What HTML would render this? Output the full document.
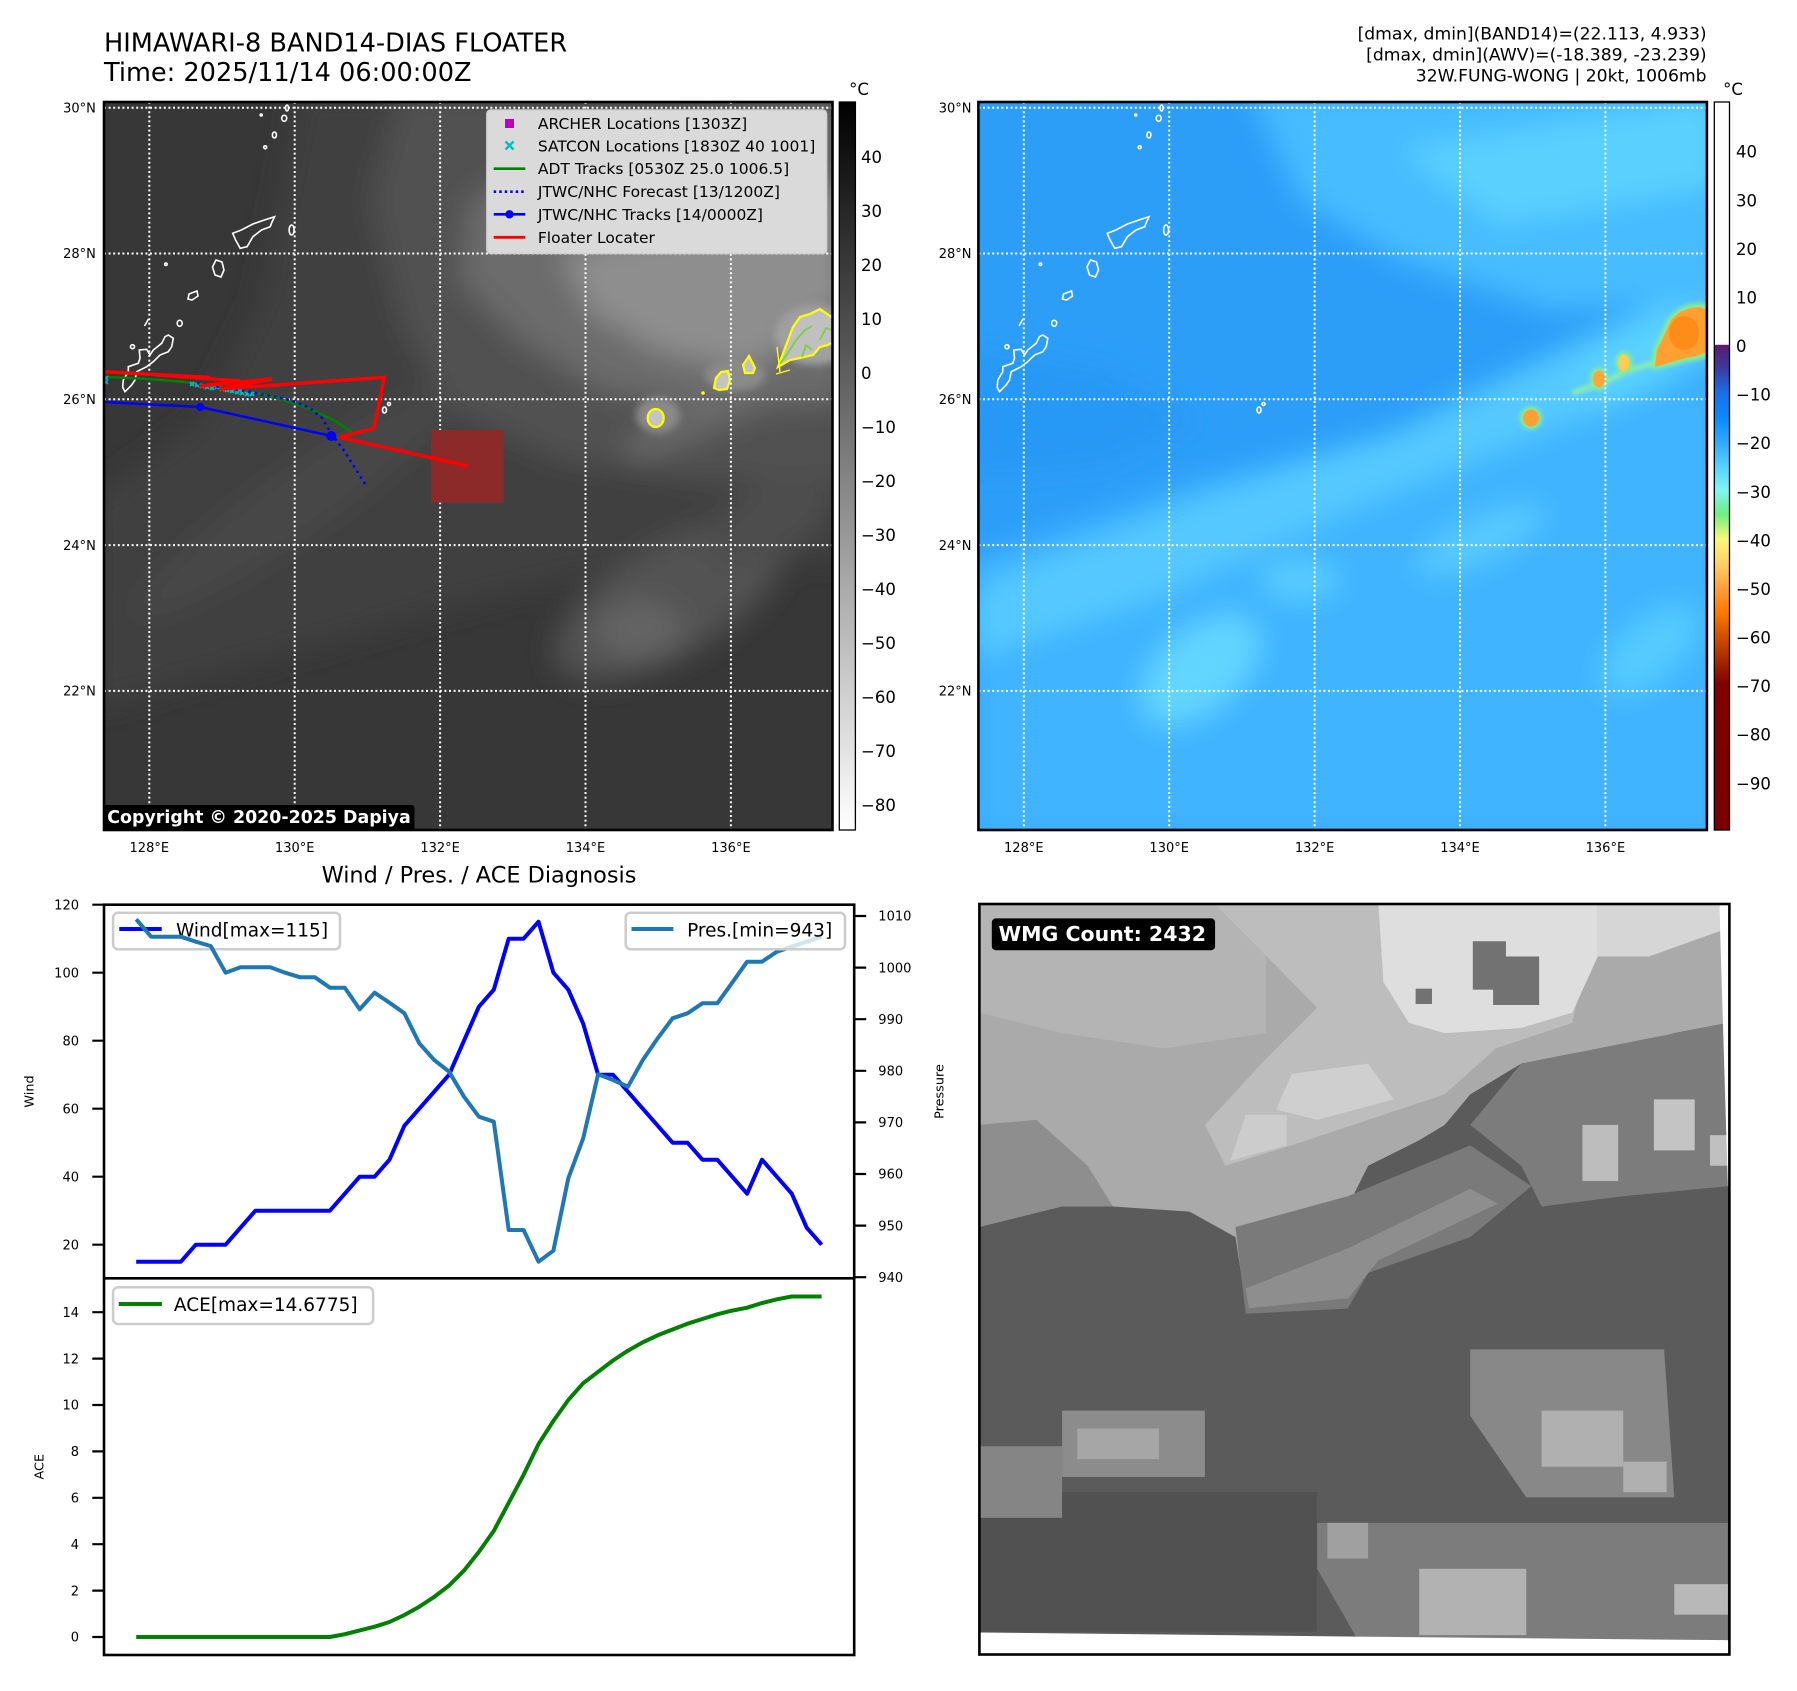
<!DOCTYPE html>
<html><head><meta charset="utf-8"><style>
html,body{margin:0;padding:0;background:#fff;}
body{width:1797px;height:1691px;overflow:hidden;}
svg{display:block;}
</style></head><body>
<svg width="1797" height="1691" viewBox="0 0 1797 1691" xmlns="http://www.w3.org/2000/svg" font-family="'DejaVu Sans','Liberation Sans',sans-serif">
<defs>
 <clipPath id="cL"><rect x="104" y="102" width="728.5" height="728"/></clipPath>
 <clipPath id="cR"><rect x="978.4" y="102" width="728.5" height="728"/></clipPath>
 <clipPath id="cW"><rect x="979.4" y="904" width="750" height="750.5"/></clipPath>
 <filter id="bl" filterUnits="userSpaceOnUse" x="0" y="0" width="1797" height="1691"><feGaussianBlur stdDeviation="14"/></filter>
 <filter id="bs" filterUnits="userSpaceOnUse" x="0" y="0" width="1797" height="1691"><feGaussianBlur stdDeviation="4"/></filter>
 <filter id="bt" filterUnits="userSpaceOnUse" x="0" y="0" width="1797" height="1691"><feGaussianBlur stdDeviation="2"/></filter>
 <linearGradient id="gL" x1="0" y1="0" x2="0" y2="1"><stop offset="0" stop-color="#000"/><stop offset="1" stop-color="#fff"/></linearGradient>
 <linearGradient id="gR" x1="0" y1="0" x2="0" y2="1">
  <stop offset="0" stop-color="#fff"/><stop offset="0.333" stop-color="#fff"/>
  <stop offset="0.334" stop-color="#5a1a6e"/>
  <stop offset="0.3667" stop-color="#3a3ca0"/>
  <stop offset="0.4" stop-color="#1a6fe8"/>
  <stop offset="0.4333" stop-color="#0a88ff"/>
  <stop offset="0.4667" stop-color="#30a8ff"/>
  <stop offset="0.5" stop-color="#58d0ff"/>
  <stop offset="0.5333" stop-color="#80f4f0"/>
  <stop offset="0.5667" stop-color="#70ee80"/>
  <stop offset="0.6" stop-color="#f8f878"/>
  <stop offset="0.6333" stop-color="#ffd068"/>
  <stop offset="0.6667" stop-color="#ffa040"/>
  <stop offset="0.7" stop-color="#ff7a00"/>
  <stop offset="0.7333" stop-color="#d45000"/>
  <stop offset="0.7667" stop-color="#a82800"/>
  <stop offset="0.8" stop-color="#800000"/>
  <stop offset="1" stop-color="#7a0000"/>
 </linearGradient>
 <g id="isl" fill="none" stroke="#fff" stroke-width="1.6">
  <path d="M168.3,335 L173.3,338.3 L171.7,346.7 L168.3,351.7 L160,355 L153.3,361.7 L146.7,366.7 L136.7,371.7 L135,380 L131.7,385 L125,391.7 L122.7,387.3 L123.3,380 L128.3,371.7 L128.3,366.7 L138.3,363.3 L140,358.3 L139.3,350 L146.7,349.3 L150,355 L153.3,350 L161.7,343.3 L165,336.7 Z"/>
  <path d="M274.6,216.7 L272,222 L270.2,226.7 L261.5,230 L252.9,236.7 L247.1,246.7 L240.2,248.3 L235.6,240 L232.7,233.3 L241.4,230 L252.9,224 L264.4,220 Z"/>
  <ellipse cx="291.6" cy="230" rx="2.5" ry="5"/>
  <path d="M216,260 L222,262 L224,270 L221,277 L215,275 L212.5,267 Z"/>
  <path d="M189,294 L197,291 L198,296 L192,300 L188,299 Z"/>
  <ellipse cx="179.7" cy="323.3" rx="2.5" ry="3"/>
  <circle cx="165.9" cy="264.3" r="1.2"/>
  <path d="M144.5,326 L148.5,319"/>
  <circle cx="132.5" cy="346.7" r="2"/>
  <ellipse cx="287" cy="108" rx="1.5" ry="3"/>
  <circle cx="261.2" cy="115" r="1"/>
  <ellipse cx="284.2" cy="118.3" rx="2.5" ry="3"/>
  <ellipse cx="274.4" cy="135" rx="2" ry="3"/>
  <circle cx="265.2" cy="147.3" r="1.5"/>
  <ellipse cx="384.5" cy="410" rx="2" ry="3"/>
  <circle cx="389" cy="404" r="1.5"/>
 </g>
</defs>

<rect width="1797" height="1691" fill="#fff"/>

<!-- ===== Titles ===== -->
<text x="104" y="51.5" font-size="25.6">HIMAWARI-8 BAND14-DIAS FLOATER</text>
<text x="104" y="81" font-size="25.6">Time: 2025/11/14 06:00:00Z</text>
<g font-size="17.2" text-anchor="end">
 <text x="1706.6" y="39.5">[dmax, dmin](BAND14)=(22.113, 4.933)</text>
 <text x="1706.6" y="60.5">[dmax, dmin](AWV)=(-18.389, -23.239)</text>
 <text x="1706.6" y="81.5">32W.FUNG-WONG | 20kt, 1006mb</text>
</g>

<!-- ===== LEFT MAP ===== -->
<g clip-path="url(#cL)">
 <rect x="104" y="102" width="728.5" height="728" fill="#373737"/>
 <g filter="url(#bl)">
  <polygon fill="#3f3f3f" points="300,90 850,90 850,560 650,560 480,600 300,650 90,710 90,500 200,420 260,300"/>
  <ellipse fill="#464646" cx="300" cy="500" rx="200" ry="35" transform="rotate(-35 300 500)"/>
  <polygon fill="#515151" points="400,90 850,90 850,480 700,480 560,460 450,410 400,320 370,200"/>
  <polygon fill="#6c6c6c" points="470,200 600,130 850,100 850,400 720,410 600,390 520,340 460,280"/>
  <polygon fill="#8e8e8e" points="560,255 680,228 850,180 850,345 760,372 660,352 590,312"/>
  <polygon fill="#6a6a6a" points="620,445 700,400 780,350 850,300 850,370 760,410 690,440 640,460"/>
  <ellipse fill="#525252" cx="670" cy="600" rx="130" ry="55" transform="rotate(-30 670 600)"/>
  <ellipse fill="#646464" cx="640" cy="630" rx="45" ry="30"/>
  <ellipse fill="#4e4e4e" cx="770" cy="520" rx="70" ry="35" transform="rotate(-30 770 520)"/>
 </g>
 <g filter="url(#bs)">
  <ellipse fill="#8a8a8a" cx="658" cy="415" rx="22" ry="18"/>
  <ellipse fill="#8a8a8a" cx="735" cy="375" rx="30" ry="16"/>
  <ellipse fill="#a0a0a0" cx="815" cy="335" rx="40" ry="30"/>
 </g>
 <ellipse cx="655.7" cy="418" rx="8" ry="9" fill="#c4c4c4" stroke="#ffff00" stroke-width="2.2"/>
 <path d="M714,388 L716,378 L721,372 L728,371 L730,380 L727,389 L719,390 Z" fill="#c4c4c4" stroke="#ffff00" stroke-width="2.2"/>
 <path d="M749,356 L755,368 L753,373 L745,373 L743,365 Z" fill="#c4c4c4" stroke="#ffff00" stroke-width="2.2"/>
 <path d="M778,367 L785,348 L793,327 L800,317 L810,314 L820,309 L830,316 L837,322 L837,340 L828,345 L820,347 L813,355 L800,358 L790,360 Z" fill="#c0c0c0" stroke="#ffff00" stroke-width="2.2"/>
 <path d="M780,364 L790,350 L796,340 L805,330 L812,326" fill="none" stroke="#7fd040" stroke-width="1.8"/>
 <path d="M802,357 L806,345 L812,350 M820,340 L826,328 L832,330" fill="none" stroke="#7fd040" stroke-width="1.8"/>
 <path d="M777,347 L780,372 M776,374 L790,370" fill="none" stroke="#ffff00" stroke-width="1.4"/>
 <circle cx="703" cy="393" r="1.8" fill="#ffff00"/>
 <use href="#isl"/>
 <!-- grid -->
 <g stroke="#fff" stroke-width="2" stroke-dasharray="2,2.6" fill="none">
  <path d="M149.3,102V830 M294.7,102V830 M440.1,102V830 M585.5,102V830 M730.9,102V830"/>
  <path d="M104,107.7H832.5 M104,253.5H832.5 M104,399.3H832.5 M104,545.1H832.5 M104,690.9H832.5"/>
 </g>
 <!-- floater box -->
 <rect x="431" y="430" width="72.7" height="72.7" fill="#8c2a2a"/>
 <!-- tracks -->
 <path d="M104,377 C200,380 300,392 353,433" fill="none" stroke="#008000" stroke-width="2.5"/>
 <g stroke="#00bfbf" stroke-width="1.6" fill="none">
  <path d="M190,382 l4,4 m0,-4 l-4,4 M195,383 l4,4 m0,-4 l-4,4 M200,384 l4,4 m0,-4 l-4,4 M205,385 l4,4 m0,-4 l-4,4 M210,386 l4,4 m0,-4 l-4,4 M215,385 l4,4 m0,-4 l-4,4 M220,387 l4,4 m0,-4 l-4,4 M225,388 l4,4 m0,-4 l-4,4 M230,389 l4,4 m0,-4 l-4,4 M235,390 l4,4 m0,-4 l-4,4 M240,391 l4,4 m0,-4 l-4,4 M245,392 l4,4 m0,-4 l-4,4 M250,392 l4,4 m0,-4 l-4,4 M229,386 l4,4 m0,-4 l-4,4 M238,387 l4,4 m0,-4 l-4,4 M104,376 l4,4 m0,-4 l-4,4 M104,380 l4,4 m0,-4 l-4,4"/>
 </g>
 <path d="M197,383 L250,392 L290,400 L310,408 L322,418 L333,436 L345,452 L355,468 L365,484" fill="none" stroke="#0000ff" stroke-width="2.6" stroke-dasharray="2.5,4"/>
 <polyline points="104,402 200.3,407 331.3,436" fill="none" stroke="#0000ff" stroke-width="2.5"/>
 <circle cx="200.3" cy="407" r="4" fill="#0000ff"/>
 <circle cx="331.3" cy="436" r="5" fill="#0000ff"/>
 <polyline points="104,371.7 210,377.5 157,375 240,381 200,386 272,379 220,389 384.3,377.3 374,428.3 339.3,437.3 468.3,466" fill="none" stroke="#ff0000" stroke-width="3.5" stroke-linejoin="miter"/>
 <!-- legend -->
 <rect x="486.8" y="110" width="339.8" height="143.5" rx="4" fill="#dadada" stroke="#cfcfcf" stroke-width="1.5"/>
 <rect x="505" y="119" width="9" height="9" fill="#bf00bf"/>
 <path d="M505.5,141.5 l8,8 m0,-8 l-8,8" stroke="#00bfbf" stroke-width="2.4" fill="none"/>
 <line x1="493.7" y1="168.7" x2="525.3" y2="168.7" stroke="#008000" stroke-width="2.6"/>
 <line x1="493.7" y1="191.7" x2="525.3" y2="191.7" stroke="#0000ff" stroke-width="2.6" stroke-dasharray="2.5,3"/>
 <line x1="493.7" y1="214.3" x2="525.3" y2="214.3" stroke="#0000ff" stroke-width="2.6"/>
 <circle cx="509.5" cy="214.3" r="4.2" fill="#0000ff"/>
 <line x1="493.7" y1="237.3" x2="525.3" y2="237.3" stroke="#ff0000" stroke-width="2.8"/>
 <g font-size="15.5" fill="#000">
  <text x="537.9" y="128.8">ARCHER Locations [1303Z]</text>
  <text x="537.9" y="151.5">SATCON Locations [1830Z 40 1001]</text>
  <text x="537.9" y="174.2">ADT Tracks [0530Z 25.0 1006.5]</text>
  <text x="537.9" y="197.2">JTWC/NHC Forecast [13/1200Z]</text>
  <text x="537.9" y="219.8">JTWC/NHC Tracks [14/0000Z]</text>
  <text x="537.9" y="242.8">Floater Locater</text>
 </g>
 <!-- copyright -->
 <rect x="103.3" y="805" width="311.2" height="30" rx="3" fill="#000"/>
 <text x="107.3" y="822.8" font-size="17.4" font-weight="bold" fill="#fff">Copyright © 2020-2025 Dapiya</text>
</g>
<rect x="104" y="102" width="728.5" height="728" fill="none" stroke="#000" stroke-width="2.6"/>
<!-- left colorbar -->
<rect x="839.3" y="102" width="16.1" height="728" fill="url(#gL)" stroke="#000" stroke-width="1.3"/>
<text x="859" y="95" font-size="16.5" text-anchor="middle">°C</text>
<g font-size="16.5">
 <text x="861" y="163">40</text>
 <text x="861" y="217">30</text>
 <text x="861" y="271">20</text>
 <text x="861" y="325">10</text>
 <text x="861" y="379">0</text>
 <text x="861" y="433">−10</text>
 <text x="861" y="487">−20</text>
 <text x="861" y="541">−30</text>
 <text x="861" y="595">−40</text>
 <text x="861" y="649">−50</text>
 <text x="861" y="703">−60</text>
 <text x="861" y="757">−70</text>
 <text x="861" y="811">−80</text>
</g>
<!-- left map tick labels -->
<g font-size="13" text-anchor="end">
 <text x="95.9" y="112.4">30°N</text>
 <text x="95.9" y="258.2">28°N</text>
 <text x="95.9" y="404">26°N</text>
 <text x="95.9" y="549.8">24°N</text>
 <text x="95.9" y="695.6">22°N</text>
</g>
<g font-size="13" text-anchor="middle">
 <text x="149.3" y="852">128°E</text>
 <text x="294.7" y="852">130°E</text>
 <text x="440.1" y="852">132°E</text>
 <text x="585.5" y="852">134°E</text>
 <text x="730.9" y="852">136°E</text>
</g>

<!-- ===== RIGHT MAP ===== -->
<g clip-path="url(#cR)">
 <rect x="978.4" y="102" width="728.5" height="728" fill="#2c9ef8"/>
 <g filter="url(#bl)">
  <polygon fill="#2698f5" points="970,350 1100,370 1200,420 1100,465 970,475"/>
  <polygon fill="#40b4ff" points="970,560 1200,480 1450,420 1725,380 1725,840 970,840"/>
  <polygon fill="#55c9ff" points="970,660 970,590 1200,500 1400,430 1600,330 1725,270 1725,360 1550,430 1350,510 1150,600"/>
  <polygon fill="#46bcff" points="1250,90 1725,90 1725,300 1550,310 1400,260 1300,200"/>
  <polygon fill="#5ad0ff" points="1400,150 1725,95 1725,185 1500,225"/>
  <ellipse fill="#62d6ff" cx="1200" cy="670" rx="70" ry="40" transform="rotate(-40 1200 670)"/>
  <ellipse fill="#56caff" cx="1480" cy="540" rx="70" ry="22" transform="rotate(-25 1480 540)"/>
  <ellipse fill="#55cbff" cx="1650" cy="650" rx="60" ry="30" transform="rotate(-40 1650 650)"/>
  <ellipse fill="#58cdff" cx="1300" cy="580" rx="40" ry="20"/>
  <ellipse fill="#5ad2ff" cx="1640" cy="360" rx="70" ry="30" transform="rotate(-30 1640 360)"/>
 </g>
 <g filter="url(#bt)">
  <polyline points="1572,393 1600,384 1625,372 1653,363" fill="none" stroke="#8ef0a8" stroke-width="5"/>
  <ellipse fill="#88ee90" cx="1531" cy="418" rx="11" ry="11.5"/>
  <ellipse fill="#88ee90" cx="1599" cy="379" rx="9" ry="11.5"/>
  <ellipse fill="#88ee90" cx="1624" cy="363" rx="8.5" ry="11.5"/>
  <path d="M1651,370 L1653,350 L1660,336 L1668,318 L1678,309 L1690,304 L1702,303 L1712,306 L1712,356 L1698,360 L1686,362 L1670,366 Z" fill="#88ee90"/>
 </g>
 <ellipse cx="1531" cy="418" rx="8" ry="8.5" fill="#ffa030"/>
 <ellipse cx="1599" cy="379" rx="6" ry="8.5" fill="#ffa53a"/>
 <ellipse cx="1624" cy="363" rx="5.5" ry="8.5" fill="#ffcc50"/>
 <path d="M1655,367 L1657,350 L1663,338 L1671,320 L1680,312 L1690,308 L1700,307 L1707,310 L1707,352 L1697,356 L1686,358 L1672,362 Z" fill="#ffa030"/>
 <ellipse cx="1684" cy="333" rx="15" ry="17" fill="#ff8c18"/>
 <use href="#isl" x="874.5"/>
 <g stroke="#fff" stroke-width="2" stroke-dasharray="2,2.6" fill="none">
  <path d="M1023.8,102V830 M1169.2,102V830 M1314.6,102V830 M1460,102V830 M1605.4,102V830"/>
  <path d="M978.4,107.7H1707 M978.4,253.5H1707 M978.4,399.3H1707 M978.4,545.1H1707 M978.4,690.9H1707"/>
 </g>
</g>
<rect x="978.4" y="102" width="728.5" height="728" fill="none" stroke="#000" stroke-width="2.6"/>
<rect x="1714.3" y="102" width="15.2" height="728" fill="url(#gR)" stroke="#000" stroke-width="1.3"/>
<text x="1733" y="95" font-size="16.5" text-anchor="middle">°C</text>
<g font-size="16.5">
 <text x="1736" y="157.7">40</text>
 <text x="1736" y="206.3">30</text>
 <text x="1736" y="254.9">20</text>
 <text x="1736" y="303.4">10</text>
 <text x="1736" y="352">0</text>
 <text x="1736" y="400.6">−10</text>
 <text x="1736" y="449.2">−20</text>
 <text x="1736" y="497.8">−30</text>
 <text x="1736" y="546.3">−40</text>
 <text x="1736" y="594.9">−50</text>
 <text x="1736" y="643.5">−60</text>
 <text x="1736" y="692.1">−70</text>
 <text x="1736" y="740.7">−80</text>
 <text x="1736" y="789.3">−90</text>
</g>
<g font-size="13" text-anchor="end">
 <text x="971.5" y="112.4">30°N</text>
 <text x="971.5" y="258.2">28°N</text>
 <text x="971.5" y="404">26°N</text>
 <text x="971.5" y="549.8">24°N</text>
 <text x="971.5" y="695.6">22°N</text>
</g>
<g font-size="13" text-anchor="middle">
 <text x="1023.8" y="852">128°E</text>
 <text x="1169.2" y="852">130°E</text>
 <text x="1314.6" y="852">132°E</text>
 <text x="1460" y="852">134°E</text>
 <text x="1605.4" y="852">136°E</text>
</g>

<!-- ===== WIND / PRES CHART ===== -->
<text x="479" y="882.5" font-size="22.4" text-anchor="middle">Wind / Pres. / ACE Diagnosis</text>
<polyline fill="none" stroke="#0000ff" stroke-width="4" stroke-linejoin="round" points="136.2,1261.7 151.1,1261.7 166,1261.7 180.9,1261.7 195.8,1244.7 210.7,1244.7 225.6,1244.7 240.5,1227.7 255.4,1210.7 270.3,1210.7 285.2,1210.7 300.1,1210.7 315,1210.7 329.9,1210.7 344.8,1193.7 359.7,1176.7 374.6,1176.7 389.5,1159.7 404.4,1125.7 419.3,1108.7 434.2,1091.7 449.1,1074.7 464,1040.7 478.9,1006.7 493.8,989.7 508.7,938.7 523.6,938.7 538.5,921.7 553.4,972.7 568.3,989.7 583.2,1023.7 598.1,1074.7 613,1074.7 627.9,1091.7 642.8,1108.7 657.7,1125.7 672.6,1142.7 687.5,1142.7 702.4,1159.7 717.3,1159.7 732.2,1176.7 747.1,1193.7 762,1159.7 776.9,1176.7 791.8,1193.7 806.7,1227.7 821.6,1244.7"/>
<rect x="113.1" y="912.7" width="226.9" height="36.6" rx="5" fill="#fff" fill-opacity="0.8" stroke="#cccccc" stroke-width="2.5"/>
<line x1="119.3" y1="929" x2="161.7" y2="929" stroke="#0000ff" stroke-width="4"/>
<text x="176" y="936.5" font-size="18.5">Wind[max=115]</text>
<polyline fill="none" stroke="#1f77b4" stroke-width="4" stroke-linejoin="round" points="136.2,919.3 151.1,936.7 166,936.7 180.9,936.7 195.8,941.7 210.7,946 225.6,972.7 240.5,967.3 255.4,967.3 270.3,967.3 285.2,972.7 300.1,977.3 315,977.3 329.9,987.7 344.8,987.7 359.7,1009.3 374.6,992.7 389.5,1002.7 404.4,1013.3 419.3,1043.3 434.2,1060 449.1,1071.7 464,1096.7 478.9,1116.7 493.8,1121.7 508.7,1230 523.6,1230 538.5,1261.7 553.4,1250.7 568.3,1178.3 583.2,1138.3 598.1,1074.3 613,1080 627.9,1086.7 642.8,1060 657.7,1038.3 672.6,1018.3 687.5,1013.3 702.4,1003.3 717.3,1003.3 732.2,982.7 747.1,961.7 762,961.7 776.9,951.7 791.8,946.7 806.7,941.7 821.6,936.7"/>
<rect x="625.7" y="912.7" width="219.3" height="36.6" rx="5" fill="#fff" fill-opacity="0.8" stroke="#cccccc" stroke-width="2.5"/>
<line x1="631.5" y1="929" x2="673.4" y2="929" stroke="#1f77b4" stroke-width="4"/>
<text x="687.1" y="936.5" font-size="18.5">Pres.[min=943]</text>
<!-- ACE -->
<polyline fill="none" stroke="#008000" stroke-width="4" stroke-linejoin="round" points="136.2,1637 329.9,1637 344.8,1634.2 359.7,1630.4 374.6,1626.7 389.5,1622 404.4,1615 419.3,1606.7 434.2,1596.9 449.1,1585.5 464,1570.6 478.9,1551.9 493.8,1530.9 508.7,1502.8 523.6,1474.8 538.5,1444.1 553.4,1420.9 568.3,1400 583.2,1383.2 598.1,1371.8 613,1360.5 627.9,1350.7 642.8,1342.3 657.7,1335.3 672.6,1329.5 687.5,1323.7 702.4,1319 717.3,1314.3 732.2,1310.6 747.1,1307.7 762,1303 776.9,1299.3 791.8,1296.5 806.7,1296.5 821.6,1296.5"/>
<rect x="113.1" y="1287.3" width="260" height="36.7" rx="5" fill="#fff" fill-opacity="0.8" stroke="#cccccc" stroke-width="2.5"/>
<line x1="118.8" y1="1304" x2="161.9" y2="1304" stroke="#008000" stroke-width="4"/>
<text x="173.9" y="1311" font-size="18.5">ACE[max=14.6775]</text>
<!-- frames -->
<rect x="104" y="904.7" width="750.2" height="750.3" fill="none" stroke="#000" stroke-width="2.6"/>
<line x1="104" y1="1278.3" x2="854.2" y2="1278.3" stroke="#000" stroke-width="2.6"/>
<!-- ticks -->
<g stroke="#000" stroke-width="2.2">
 <path d="M92.3,904.7H104 M92.3,972.7H104 M92.3,1040.7H104 M92.3,1108.7H104 M92.3,1176.7H104 M92.3,1244.7H104"/>
 <path d="M854.2,916H866.2 M854.2,967.6H866.2 M854.2,1019.2H866.2 M854.2,1070.8H866.2 M854.2,1122.4H866.2 M854.2,1174H866.2 M854.2,1225.6H866.2 M854.2,1277.2H866.2"/>
 <path d="M92.3,1637H104 M92.3,1590.6H104 M92.3,1544.2H104 M92.3,1497.8H104 M92.3,1451.4H104 M92.3,1405H104 M92.3,1358.6H104 M92.3,1312.2H104"/>
</g>
<g font-size="13" text-anchor="end">
 <text x="79" y="909.4">120</text>
 <text x="79" y="977.4">100</text>
 <text x="79" y="1045.4">80</text>
 <text x="79" y="1113.4">60</text>
 <text x="79" y="1181.4">40</text>
 <text x="79" y="1249.4">20</text>
 <text x="79" y="1641.7">0</text>
 <text x="79" y="1595.3">2</text>
 <text x="79" y="1548.9">4</text>
 <text x="79" y="1502.5">6</text>
 <text x="79" y="1456.1">8</text>
 <text x="79" y="1409.7">10</text>
 <text x="79" y="1363.3">12</text>
 <text x="79" y="1316.9">14</text>
</g>
<g font-size="13">
 <text x="878.3" y="920.7">1010</text>
 <text x="878.3" y="972.3">1000</text>
 <text x="878.3" y="1023.9">990</text>
 <text x="878.3" y="1075.5">980</text>
 <text x="878.3" y="1127.1">970</text>
 <text x="878.3" y="1178.7">960</text>
 <text x="878.3" y="1230.3">950</text>
 <text x="878.3" y="1281.9">940</text>
</g>
<text transform="translate(33.4,1091.5) rotate(-90)" font-size="12.8" text-anchor="middle">Wind</text>
<text transform="translate(43.7,1466.7) rotate(-90)" font-size="12.8" text-anchor="middle">ACE</text>
<text transform="translate(943.5,1091.5) rotate(-90)" font-size="12.8" text-anchor="middle">Pressure</text>

<!-- ===== WMG PANEL ===== -->
<g clip-path="url(#cW)">
 <rect x="979.4" y="904" width="750" height="750.5" fill="#5b5b5b"/>
 <g transform="matrix(0.99592 0 0 0.99592 3.917 3.59)">
  <polygon fill="#aaaaaa" points="979.5,904.1 1722.3,904.1 1731,1023.4 1677.2,1033.7 1626,1049.1 1574.8,1054.2 1523.5,1064.4 1472.3,1095.2 1446.7,1125.9 1421.1,1141.3 1369.8,1166.9 1349.3,1207.9 1349.3,1305.2 1246.9,1305.2 1236.6,1238.6 1190.5,1213 1113.7,1207.9 1062.5,1197.6 979.5,1207.9"/>
  <polygon fill="#b4b4b4" points="979.5,904.1 1267.4,904.1 1267.4,1033.7 1164.9,1049.1 1062.5,1033.7 979.5,1013.2"/>
  <polygon fill="#bdbdbd" points="1216.1,904.1 1600.4,904.1 1574.8,1023.4 1497.9,1049.1 1446.7,1095.2 1369.8,1120.8 1293,1146.4 1226.4,1166.9 1205.9,1125.9 1267.4,1059.3 1318.6,1008.1"/>
  <polygon fill="#dedede" points="1380.1,904.1 1600.4,904.1 1600.4,956.8 1574.8,1013.2 1523.5,1028.6 1446.7,1033.7 1410.8,1023.4 1385.2,982.5"/>
  <polygon fill="#d6d6d6" points="1600.4,904.1 1722.3,904.1 1723.3,931.2 1651.6,956.8 1600.4,956.8"/>
  <polygon fill="#cfcfcf" points="1293,1074.7 1369.8,1064.4 1395.5,1100.3 1318.6,1120.8 1277.6,1110.5"/>
  <polygon fill="#cccccc" points="1246.9,1115.7 1287.9,1115.7 1287.9,1146.4 1231.5,1161.8"/>
  <rect x="1474.9" y="941.5" width="33.3" height="48.6" fill="#727272"/>
  <rect x="1495.3" y="956.8" width="46.2" height="48.7" fill="#727272"/>
  <rect x="1417.5" y="989.1" width="16.4" height="15.4" fill="#727272"/>
  <polygon fill="#7c7c7c" points="1523.5,1064.4 1731,1023.4 1731,1187.4 1626,1197.6 1544,1207.9 1523.5,1166.9 1472.3,1125.9"/>
  <rect x="1585" y="1125.9" width="35.9" height="56.4" fill="#bdbdbd"/>
  <rect x="1656.7" y="1100.3" width="41" height="51.2" fill="#c4c4c4"/>
  <rect x="1713.1" y="1136.2" width="17.9" height="30.7" fill="#c0c0c0"/>
  <polygon fill="#8e8e8e" points="979.5,1125.9 1036.8,1120.8 1088.1,1166.9 1113.7,1207.9 1062.5,1207.9 979.5,1228.4"/>
  <polygon fill="#7a7a7a" points="1236.6,1228.4 1349.3,1197.6 1472.3,1146.4 1533.8,1187.4 1472.3,1238.6 1369.8,1274.5 1349.3,1310.3 1246.9,1315.5"/>
  <polygon fill="#8e8e8e" points="1246.9,1290 1349.3,1250 1472.3,1190 1500,1205 1380,1262 1350,1300 1250,1310"/>
  <rect x="979.5" y="1494.7" width="339.1" height="140" fill="#515151"/>
  <rect x="1062.5" y="1412.8" width="143.4" height="66.6" fill="#8c8c8c"/>
  <rect x="1077.8" y="1430.7" width="82" height="30.8" fill="#a6a6a6"/>
  <rect x="979.5" y="1448.6" width="83" height="71.8" fill="#858585"/>
  <polygon fill="#888888" points="1472.3,1351.3 1667,1351.3 1677.2,1499.9 1528.6,1499.9 1472.3,1417.9"/>
  <rect x="1544" y="1412.8" width="82" height="56.3" fill="#b0b0b0"/>
  <rect x="1626" y="1464" width="43.5" height="30.7" fill="#b0b0b0"/>
  <polygon fill="#7c7c7c" points="1318.6,1525.5 1731,1525.5 1731,1643.3 1359.6,1643.3 1318.6,1571.6"/>
  <rect x="1421.1" y="1571.6" width="107.5" height="66.6" fill="#b2b2b2"/>
  <rect x="1677.2" y="1587" width="53.8" height="30.7" fill="#b8b8b8"/>
  <rect x="1328.9" y="1525.5" width="40.9" height="35.9" fill="#a0a0a0"/>
  <polygon fill="#ffffff" points="979.5,1635.6 1359.6,1639.7 1731,1643.3 1735,1660 979.5,1660"/>
  <polygon fill="#ffffff" points="1722.3,900 1736,900 1736,1187.4 1731,1187.4"/>
 </g>
</g>
<rect x="979.4" y="904" width="750" height="750.5" fill="none" stroke="#000" stroke-width="2.6"/>
<rect x="991.8" y="918.4" width="223.3" height="31.8" rx="4" fill="#000"/>
<text x="998.5" y="941" font-size="20.5" font-weight="bold" fill="#fff">WMG Count: 2432</text>
</svg>
</body></html>
